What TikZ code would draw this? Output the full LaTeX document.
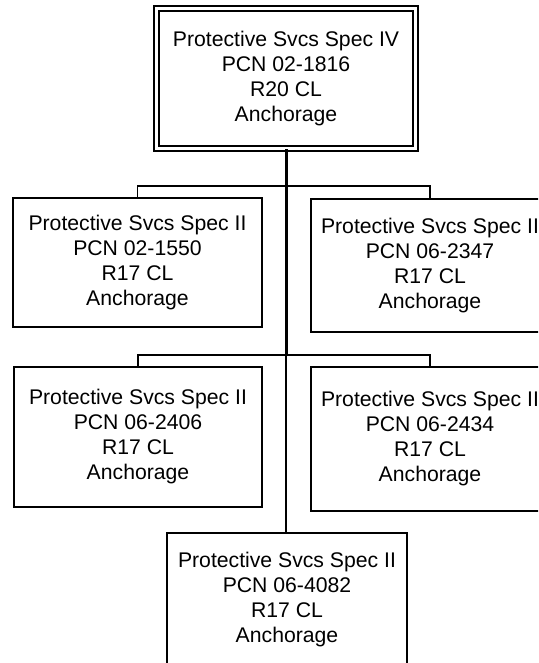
\documentclass[tikz,border=0pt]{standalone}
\usepackage{fontspec}
\setmainfont{Liberation Sans}
\begin{document}
\begin{tikzpicture}[x=1pt,y=-1pt,
  every node/.style={font=\fontsize{21.2}{25}\selectfont, align=center, inner sep=0pt},
  topbox/.style={draw, double, double distance=3.2pt, line width=1.7pt, minimum width=259pt, minimum height=140pt},
  childbox/.style={draw, line width=1.8pt},
  bus/.style={line width=1.7pt},
  trunk/.style={line width=3pt}]
\useasboundingbox (0,0) rectangle (538,663);
\clip (0,0) rectangle (538,663);
\node[topbox] (top) at (286,78.5) {Protective Svcs Spec IV\\PCN 02-1816\\R20 CL\\Anchorage};
\node[childbox, minimum width=249pt, minimum height=129pt] (c1) at (137.5,262.5) {Protective Svcs Spec II\\PCN 02-1550\\R17 CL\\Anchorage};
\node[childbox, minimum width=238pt, minimum height=133pt] (c2) at (430,265.5) {Protective Svcs Spec II\\PCN 06-2347\\R17 CL\\Anchorage};
\node[childbox, minimum width=248pt, minimum height=140pt] (c3) at (138,437) {Protective Svcs Spec II\\PCN 06-2406\\R17 CL\\Anchorage};
\node[childbox, minimum width=238pt, minimum height=144pt] (c4) at (430,439) {Protective Svcs Spec II\\PCN 06-2434\\R17 CL\\Anchorage};
\node[childbox, minimum width=240pt, minimum height=134pt] (c5) at (287,600) {Protective Svcs Spec II\\PCN 06-4082\\R17 CL\\Anchorage};
\coordinate (j1) at (286,186);
\coordinate (j2) at (286,355);
\draw[bus] (c1.north) |- (j1) -| (c2.north);
\draw[bus] (c3.north) |- (j2) -| (c4.north);
\draw[bus] (j2) -- (j2 |- c5.north);
\draw[trunk] (top.south) -- (j2);
\end{tikzpicture}
\end{document}
